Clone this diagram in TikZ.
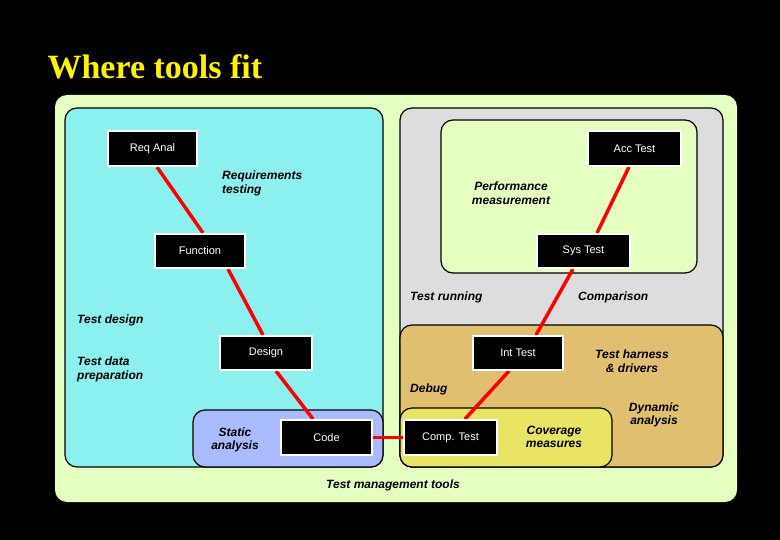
\documentclass[tikz,border=0pt]{standalone}
\usepackage{fontspec}
\setmainfont{Liberation Serif}
\setsansfont{Liberation Sans}
\begin{document}
\begin{tikzpicture}[x=1pt,y=-1pt,
 stage/.style={draw=white,line width=1.2pt,fill=black,text=white,font=\sffamily\fontsize{11}{13}\selectfont,inner sep=0pt},
 lab/.style={font=\sffamily\bfseries\itshape\fontsize{12}{13.5}\selectfont,align=center,inner sep=0pt},
 labl/.style={lab,align=left,anchor=north west},
 area/.style={draw=black,line width=1.2pt,rounded corners=12pt},
 vline/.style={draw=red,line width=3.5pt}]
\fill[black] (0,0) rectangle (780,540);
\useasboundingbox (0,0) rectangle (780,540);
\node[anchor=west,text=yellow,font=\bfseries\fontsize{34}{36}\selectfont] (title) at (44,67) {Where tools fit};
\fill[fill={rgb,255:red,228;green,255;blue,192},rounded corners=12pt] (55,95) rectangle (737,502);
\path[area,fill={rgb,255:red,140;green,240;blue,238}] (65,108) rectangle (383,467);
\path[area,fill={rgb,255:red,221;green,221;blue,221}] (400,108) rectangle (723,467);
\path[area,fill={rgb,255:red,228;green,255;blue,192}] (441,120) rectangle (697,273);
\path[area,fill={rgb,255:red,224;green,192;blue,112}] (400,325) rectangle (723,467);
\path[area,fill={rgb,255:red,170;green,187;blue,255}] (193,410) rectangle (383,467);
\path[area,fill={rgb,255:red,232;green,228;blue,100}] (400,408) rectangle (612,467);
\node[stage,minimum width=89,minimum height=35] (req) at (152.5,148.5) {Req Anal};
\node[stage,minimum width=93,minimum height=35] (acc) at (634.5,148.5) {Acc Test};
\node[stage,minimum width=90,minimum height=34] (fun) at (200,251) {Function};
\node[stage,minimum width=93,minimum height=34] (sys) at (583.5,251) {Sys Test};
\node[stage,minimum width=92,minimum height=34] (des) at (266,353) {Design};
\node[stage,minimum width=90,minimum height=34] (int) at (518,353) {Int Test};
\node[stage,minimum width=91,minimum height=35] (code) at (326.5,437.5) {Code};
\node[stage,minimum width=93,minimum height=35] (comp) at (450.5,437.5) {Comp. Test};
\begin{scope}[on background layer/.style={}]
\end{scope}
\draw[vline] (req.south) ++(0,0) coordinate (a1);
\path (req.south) -- (fun.north) coordinate[pos=0] (r1) coordinate[pos=1] (f1);
\draw[vline] (157,167) -- (203,233);
\draw[vline] (228,269) -- (263,335);
\draw[vline] (276,371) -- (313,419);
\draw[vline] (code.east) -- (comp.west);
\draw[vline] (465,419) -- (509,371);
\draw[vline] (536,335) -- (573,269);
\draw[vline] (597,233) -- (629,167);
\node[stage,minimum width=89,minimum height=35] at (req) {Req Anal};
\node[stage,minimum width=93,minimum height=35] at (acc) {Acc Test};
\node[stage,minimum width=90,minimum height=34] at (fun) {Function};
\node[stage,minimum width=93,minimum height=34] at (sys) {Sys Test};
\node[stage,minimum width=92,minimum height=34] at (des) {Design};
\node[stage,minimum width=90,minimum height=34] at (int) {Int Test};
\node[stage,minimum width=91,minimum height=35] at (code) {Code};
\node[stage,minimum width=93,minimum height=35] at (comp) {Comp. Test};
\node[labl] (l1) at (222,171) {Requirements\\testing};
\node[lab] (l2) at (511,193) {Performance\\measurement};
\node[lab,anchor=west] (l3) at (410,297) {Test running};
\node[lab,anchor=west] (l4) at (578,297) {Comparison};
\node[lab,anchor=west] (l5) at (77,320) {Test design};
\node[labl] (l6) at (77,357) {Test data\\preparation};
\node[lab,anchor=west] (l7) at (410,389) {Debug};
\node[lab] (l8) at (632,361) {Test harness\\\& drivers};
\node[lab] (l9) at (654,415) {Dynamic\\analysis};
\node[lab] (l10) at (235,440) {Static\\analysis};
\node[lab] (l11) at (554,437) {Coverage\\measures};
\node[lab] (l12) at (393,485) {Test management tools};
\end{tikzpicture}
\end{document}
